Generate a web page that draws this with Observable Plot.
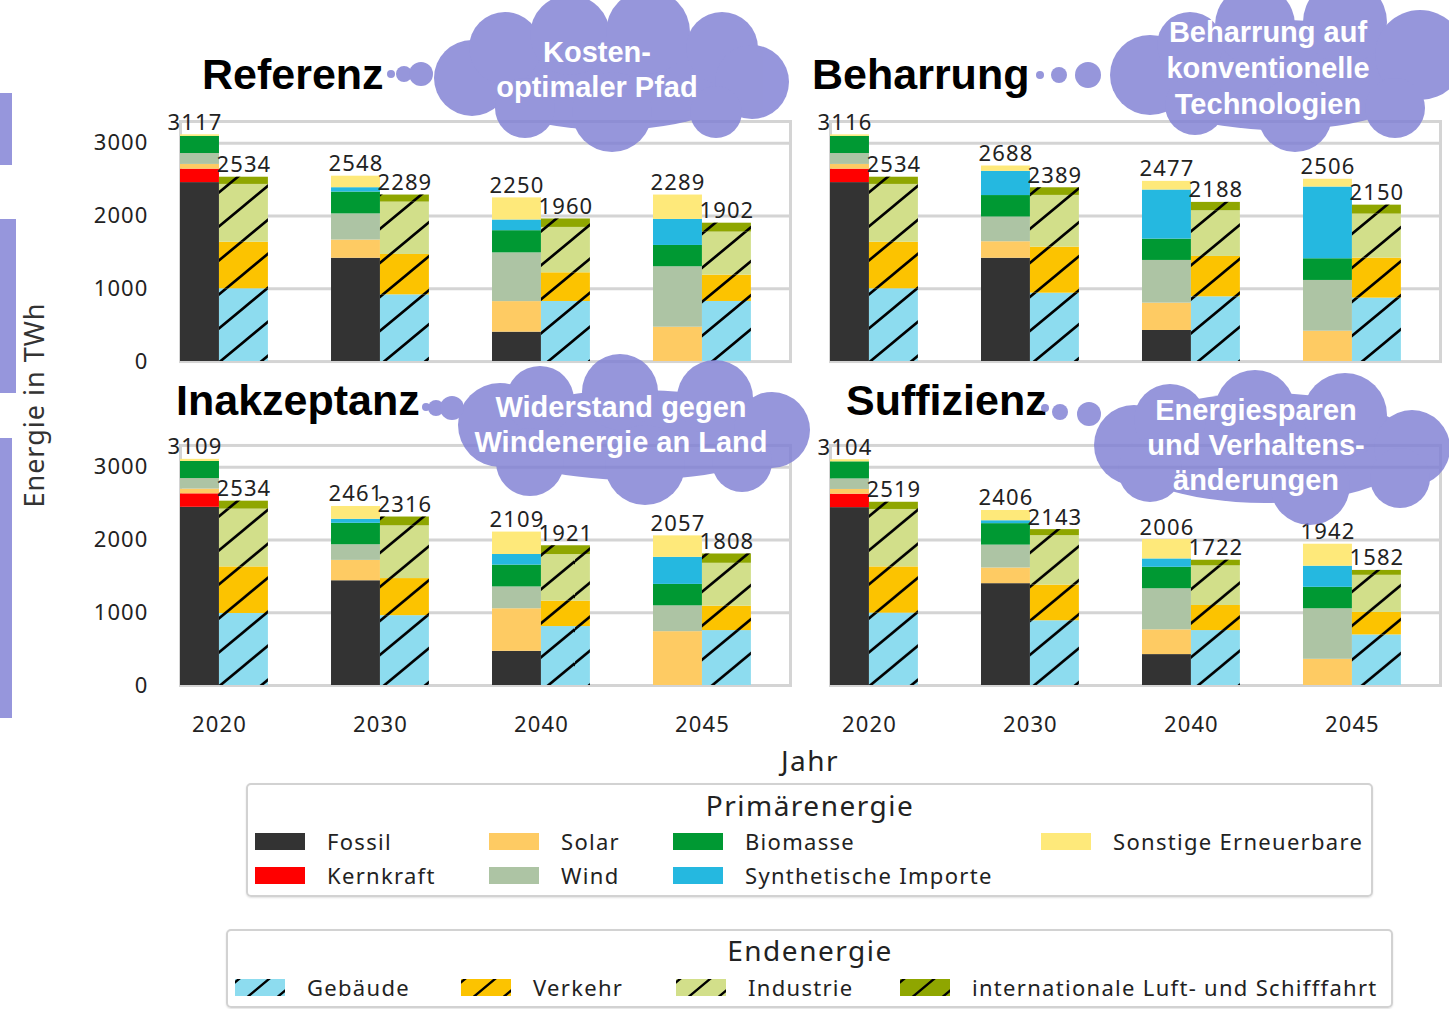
<!DOCTYPE html>
<html><head><meta charset="utf-8">
<script src="https://cdn.jsdelivr.net/npm/d3@7"></script>
<script src="https://cdn.jsdelivr.net/npm/@observablehq/plot@0.6"></script>
<style>
body{margin:0;background:#fff;}
#wrap{position:relative;width:1449px;height:1009px;overflow:hidden;font-family:"Noto Sans",sans-serif;color:#222;}
#chart{position:absolute;left:0;top:0;}
#chart svg text{letter-spacing:1.1px;}
#overlay{position:absolute;left:0;top:0;pointer-events:none;}
.box{position:absolute;border:2px solid #d2d2d2;border-radius:5px;box-sizing:border-box;box-shadow:0 1px 2px rgba(0,0,0,0.12);}
.ctext{position:absolute;transform:translate(-50%,-50%);white-space:nowrap;letter-spacing:1.2px;}
.item{position:absolute;display:flex;align-items:center;font-size:22px;white-space:nowrap;transform:translateY(-50%);color:#222;letter-spacing:1.3px;}
.sw{width:50px;height:17px;margin-right:22px;display:block;}
</style></head>
<body>
<svg width="0" height="0" style="position:absolute">
  <defs>
    <pattern id="hatch" patternUnits="userSpaceOnUse" width="41" height="34">
      <path d="M-41,34 L41,-34 M0,34 L41,0 M0,68 L82,0" stroke="#000" stroke-width="2.6" fill="none"/>
    </pattern>
    <pattern id="hatchLegend" patternUnits="userSpaceOnUse" width="30" height="25" x="4">
      <path d="M-30,25 L30,-25 M0,25 L30,0 M0,50 L60,0" stroke="#000" stroke-width="2.4" fill="none"/>
    </pattern>
  </defs>
</svg>
<div id="wrap">
  <div id="chart"></div>
</div>
<script>
// ---------- data ----------
const years = ["2020", "2030", "2040", "2045"];
const scenarios = ["Referenz", "Beharrung", "Inakzeptanz", "Suffizienz"];
const scenarioNotes = [
  ["Kosten-", "optimaler Pfad"],
  ["Beharrung auf", "konventionelle", "Technologien"],
  ["Widerstand gegen", "Windenergie an Land"],
  ["Energiesparen", "und Verhaltens-", "änderungen"]
];
const panelCol = ["L", "R", "L", "R"];
const panelRow = ["T", "T", "B", "B"];

const primaryCategories = ["Fossil", "Kernkraft", "Solar", "Wind", "Biomasse", "Synthetische Importe", "Sonstige Erneuerbare"];
const primaryColors = ["#333333", "#ff0000", "#fecb63", "#adc4a4", "#009933", "#25b8e0", "#fee97a"];
const finalCategories = ["Gebäude", "Verkehr", "Industrie", "internationale Luft- und Schifffahrt"];
const finalColors = ["#8ddcef", "#fcc300", "#d2df8a", "#8fa600"];

// values per year (rows) and category (columns), TWh
const referenzPrimary = [
  [2460, 185, 65, 150, 235, 0, 22],
  [1420, 0, 250, 360, 300, 60, 158],
  [404, 0, 420, 670, 305, 147, 304],
  [0, 0, 472, 831, 293, 358, 335]
];
const referenzFinal = [[1000, 640, 795, 99], [917, 555, 720, 97], [826, 394, 624, 116], [826, 362, 592, 122]];
const referenzTotals = [[3117, 2534], [2548, 2289], [2250, 1960], [2289, 1902]];

const beharrungPrimary = [
  [2460, 185, 65, 150, 235, 0, 21],
  [1420, 0, 227, 340, 295, 333, 73],
  [427, 0, 376, 587, 293, 675, 119],
  [0, 0, 417, 698, 298, 986, 107]
];
const beharrungFinal = [[1000, 640, 795, 99], [940, 633, 711, 105], [890, 555, 628, 115], [872, 550, 605, 123]];
const beharrungTotals = [[3116, 2534], [2688, 2389], [2477, 2188], [2506, 2150]];

const inakzeptanzPrimary = [
  [2450, 185, 65, 145, 235, 0, 29],
  [1440, 0, 280, 215, 295, 55, 176],
  [470, 0, 585, 300, 300, 146, 308],
  [0, 0, 740, 355, 295, 372, 295]
];
const inakzeptanzFinal = [[990, 640, 795, 109], [960, 510, 725, 121], [810, 350, 640, 121], [755, 335, 590, 128]];
const inakzeptanzTotals = [[3109, 2534], [2461, 2316], [2109, 1921], [2057, 1808]];

const suffizienzPrimary = [
  [2445, 185, 65, 145, 235, 0, 29],
  [1400, 0, 215, 315, 295, 40, 141],
  [425, 0, 340, 565, 295, 115, 266],
  [0, 0, 360, 695, 295, 290, 302]
];
const suffizienzFinal = [[995, 635, 790, 99], [890, 490, 680, 83], [755, 345, 545, 77], [695, 310, 510, 67]];
const suffizienzTotals = [[3104, 2519], [2406, 2143], [2006, 1722], [1942, 1582]];

const yTicks = [0, 1000, 2000, 3000];

// ---------- build tables ----------
const primaryAll = [referenzPrimary, beharrungPrimary, inakzeptanzPrimary, suffizienzPrimary];
const finalAll = [referenzFinal, beharrungFinal, inakzeptanzFinal, suffizienzFinal];
const totalsAll = [referenzTotals, beharrungTotals, inakzeptanzTotals, suffizienzTotals];
const BAR = 0.304;

const primaryRows = [], finalRows = [], totalRows = [];
scenarios.forEach((s, si) => {
  years.forEach((yr, yi) => {
    let acc = 0;
    primaryCategories.forEach((c, ci) => {
      const v = primaryAll[si][yi][ci];
      if (v > 0) primaryRows.push({col: panelCol[si], row: panelRow[si], x1: yi - BAR, x2: yi, y1: acc, y2: acc + v, color: primaryColors[ci]});
      acc += v;
    });
    acc = 0;
    finalCategories.forEach((c, ci) => {
      const v = finalAll[si][yi][ci];
      if (v > 0) finalRows.push({col: panelCol[si], row: panelRow[si], x1: yi, x2: yi + BAR, y1: acc, y2: acc + v, color: finalColors[ci]});
      acc += v;
    });
    totalRows.push({col: panelCol[si], row: panelRow[si], x: yi - BAR / 2, total: totalsAll[si][yi][0]});
    totalRows.push({col: panelCol[si], row: panelRow[si], x: yi + BAR / 2, total: totalsAll[si][yi][1]});
  });
});

const grid = "#d4d4d4";
const chart = Plot.plot({
  width: 1449, height: 750,
  marginLeft: 180, marginRight: 9, marginTop: 121, marginBottom: 65,
  style: {fontFamily: "'Noto Sans', sans-serif", fontSize: "22px", color: "#222", background: "transparent"},
  fx: {domain: ["L", "R"], paddingInner: 0.0615, paddingOuter: 0, round: false, axis: null},
  fy: {domain: ["T", "B"], paddingInner: 0.259, paddingOuter: 0, round: false, axis: null},
  x: {type: "linear", domain: [-0.242, 3.547]},
  y: {domain: [0, 3300]},
  color: {type: "identity"},
  marks: [
    Plot.gridY({ticks: [1000, 2000, 3000], stroke: grid, strokeOpacity: 1, strokeWidth: 3}),
    Plot.frame({stroke: grid, strokeWidth: 3}),
    Plot.rectY(primaryRows, {x1: "x1", x2: "x2", y1: "y1", y2: "y2", fill: "color", fx: "col", fy: "row", clip: true}),
    Plot.rectY(finalRows, {x1: "x1", x2: "x2", y1: "y1", y2: "y2", fill: "color", fx: "col", fy: "row", clip: true}),
    Plot.rectY(finalRows, {x1: "x1", x2: "x2", y1: "y1", y2: "y2", fill: "url(#hatch)", fx: "col", fy: "row", clip: true}),
    Plot.text(totalRows, {x: "x", y: "total", text: d => String(d.total), lineAnchor: "bottom", dy: -5, fx: "col", fy: "row", fontSize: 22, fill: "#222"}),
    Plot.axisY({ticks: yTicks, tickSize: 0, tickPadding: 32, fontSize: 22, label: null, tickFormat: d => String(d)}),
    Plot.axisX({ticks: [0, 1, 2, 3], tickFormat: i => years[i], tickSize: 0, tickPadding: 31, fontSize: 22, label: null})
  ]
});
document.getElementById("chart").appendChild(chart);

// ---------- overlay: titles and thought clouds ----------
const NS = "http://www.w3.org/2000/svg";
const ov = document.createElementNS(NS, "svg");
ov.setAttribute("id", "overlay");
ov.setAttribute("width", 1449); ov.setAttribute("height", 1009);
document.getElementById("wrap").appendChild(ov);
function el(tag, attrs, parent) {
  const e = document.createElementNS(NS, tag);
  for (const k in attrs) e.setAttribute(k, attrs[k]);
  (parent || ov).appendChild(e);
  return e;
}
// decorative strips on the left edge
[[93, 72, 12], [219, 174, 16], [438, 280, 12]].forEach(([t, h, w]) => el("rect", {x: 0, y: t, width: w, height: h, fill: "#9696dc"}));

const titlePos = [[202, 89], [812, 89], [176, 415], [846, 415]];
const clouds = [
  {ell: [610, 78, 140, 52], circ: [[472,78,38],[505,48,36],[570,35,40],[648,32,42],[722,48,36],[752,82,37],[716,112,26],[612,112,40],[525,108,30]],
   bub: [[391,74,4],[404,74,8],[421,74,12]], text: [597, 62, 35]},
  {ell: [1280, 75, 150, 55], circ: [[1150,75,40],[1190,45,33],[1255,25,40],[1345,22,42],[1420,55,45],[1395,108,30],[1295,115,37],[1195,105,30]],
   bub: [[1040,75,4],[1059,75,8],[1088,75,13]], text: [1268, 42, 36]},
  {ell: [635, 435, 150, 45], circ: [[500,425,42],[540,400,34],[620,392,38],[715,398,38],[772,430,38],[742,462,30],[645,465,40],[530,462,34]],
   bub: [[426,407,4],[436,408,8],[452,408,12]], text: [621, 417, 35]},
  {ell: [1265, 448, 150, 55], circ: [[1134,445,40],[1170,420,36],[1255,410,40],[1345,415,42],[1412,448,38],[1400,478,30],[1310,485,40],[1150,470,32]],
   bub: [[1045,408,4],[1060,412,8],[1089,414,12]], text: [1256, 420, 35]}
];
scenarios.forEach((s, si) => {
  const t = el("text", {x: titlePos[si][0], y: titlePos[si][1], "font-family": "'Liberation Sans', Arial, sans-serif", "font-weight": "bold", "font-size": 43, fill: "#000"});
  t.textContent = s;
  const c = clouds[si];
  const g = el("g", {fill: "#7f7fd4", opacity: 0.82});
  el("ellipse", {cx: c.ell[0], cy: c.ell[1], rx: c.ell[2], ry: c.ell[3]}, g);
  c.circ.forEach(([x, y, r]) => el("circle", {cx: x, cy: y, r}, g));
  c.bub.forEach(([x, y, r]) => el("circle", {cx: x, cy: y, r}, g));
  scenarioNotes[si].forEach((line, li) => {
    const tt = el("text", {x: c.text[0], y: c.text[1] + li * c.text[2], "text-anchor": "middle", "font-family": "'Liberation Sans', Arial, sans-serif", "font-weight": "bold", "font-size": 29, fill: "#fff"});
    tt.textContent = line;
  });
});

// ---------- axis titles ----------
const wrap = document.getElementById("wrap");
function div(cls, html, style) {
  const d = document.createElement("div");
  d.className = cls; d.innerHTML = html; Object.assign(d.style, style); wrap.appendChild(d); return d;
}
div("ctext", "Energie in TWh", {left: "33px", top: "405px", fontSize: "27px", color: "#333", letterSpacing: "1px", transform: "translate(-50%,-50%) rotate(-90deg)"});
div("ctext", "Jahr", {left: "810px", top: "760px", fontSize: "28px", color: "#222", letterSpacing: "1.5px"});

// ---------- legends ----------
div("box", "", {left: "246px", top: "783px", width: "1127px", height: "114px"});
div("ctext", "Primärenergie", {left: "810px", top: "805px", fontSize: "28px", color: "#222", letterSpacing: "1.5px"});
const pCols = [255, 489, 673, 1041], pRows = [841, 875];
primaryCategories.forEach((c, i) => {
  div("item", `<span class="sw" style="background:${primaryColors[i]}"></span>${c}`, {left: pCols[Math.floor(i / 2)] + "px", top: pRows[i % 2] + "px"});
});
div("box", "", {left: "226px", top: "929px", width: "1167px", height: "79px"});
div("ctext", "Endenergie", {left: "810px", top: "950px", fontSize: "28px", color: "#222", letterSpacing: "1.5px"});
const fCols = [235, 461, 676, 900];
finalCategories.forEach((c, i) => {
  div("item", `<svg class="sw" width="50" height="17"><rect width="50" height="17" fill="${finalColors[i]}"/><rect width="50" height="17" fill="url(#hatchLegend)"/></svg>${c}`, {left: fCols[i] + "px", top: "987px"});
});
</script>
</body></html>
